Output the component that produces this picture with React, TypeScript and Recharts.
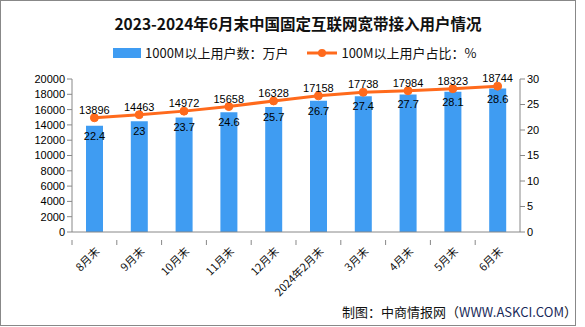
import { ComposedChart, Bar, Line, XAxis, YAxis, LabelList } from 'recharts';

const months = ['8月末', '9月末', '10月末', '11月末', '12月末', '2024年2月末', '3月末', '4月末', '5月末', '6月末'];
const gigabitUsers = [13896, 14463, 14972, 15658, 16328, 17158, 17738, 17984, 18323, 18744];
const share100M = [22.4, 23, 23.7, 24.6, 25.7, 26.7, 27.4, 27.7, 28.1, 28.6];
const leftTicks = [0, 2000, 4000, 6000, 8000, 10000, 12000, 14000, 16000, 18000, 20000];
const rightTicks = [0, 5, 10, 15, 20, 25, 30];

const data = months.map((m, i) => ({ month: m, users: gigabitUsers[i], share: share100M[i] }));

const FONT = '"Liberation Sans", "Noto Sans CJK SC", sans-serif';
const CJK = '"Noto Sans CJK SC", sans-serif';
const AXIS = '#888';
const BAR = '#3f9cf2';
const LINE = '#ff6a1c';
const BAND = (520 - 72) / months.length;

function MonthTick(props: any) {
  const { x, y, payload } = props;
  return (
    <g transform={`translate(${x},${y})`}>
      <line x1={-BAND / 2} x2={-BAND / 2} y1={0} y2={5} stroke={AXIS} />
      <text
        transform="translate(6,12) rotate(-45)"
        textAnchor="end"
        fontSize={11}
        fontFamily={CJK}
        fill="#111"
      >
        {payload.value}
      </text>
    </g>
  );
}

// the value above each dot is the bar value, and the value inside the bar is the share
function UsersLabel(props: any) {
  const { x, y, index } = props;
  return (
    <text x={x} y={y - 4} textAnchor="middle" fontSize={11} fontFamily={FONT} fill="#000">
      {gigabitUsers[index]}
    </text>
  );
}

function ShareLabel(props: any) {
  const { x, y, width, index } = props;
  return (
    <text x={x + width / 2} y={y + 14} textAnchor="middle" fontSize={11} fontFamily={FONT} fill="#000">
      {share100M[index]}
    </text>
  );
}

export default function App() {
  return (
    <div style={{ position: 'absolute', left: 0, top: 0, width: 585, height: 327, background: '#fff' }}>
      <div
        style={{
          position: 'absolute', left: 0, top: 0, width: 576, height: 326,
          border: '1px solid #888', boxSizing: 'border-box',
        }}
      />
      <div
        style={{
          position: 'absolute', left: 0, top: 12, width: 596, textAlign: 'center',
          fontFamily: CJK, fontWeight: 'bold', fontSize: 15.5, color: '#111',
        }}
      >
        2023-2024年6月末中国固定互联网宽带接入用户情况
      </div>
      <div style={{ position: 'absolute', left: 113, top: 43, fontFamily: CJK, fontSize: 13, color: '#111', display: 'flex', alignItems: 'center' }}>
        <span style={{ display: 'inline-block', width: 28, height: 10, background: BAR, marginRight: 4 }} />
        <span>1000M以上用户数：万户</span>
        <svg width={30} height={10} style={{ marginLeft: 19, marginRight: 4 }}>
          <line x1={0} x2={30} y1={5} y2={5} stroke={LINE} strokeWidth={3} />
          <circle cx={15} cy={5} r={4} fill={LINE} />
        </svg>
        <span>100M以上用户占比：%</span>
      </div>
      <div style={{ position: 'absolute', left: 342, top: 302, fontFamily: CJK, fontSize: 13, color: '#111' }}>
        制图：中商情报网（<span style={{ color: '#1a2a5a' }}>WWW.ASKCI.COM</span>）
      </div>
      <div style={{ position: 'absolute', left: 0, top: 0 }}>
        <ComposedChart
          width={585}
          height={327}
          data={data}
          margin={{ top: 79, right: 25, bottom: 0, left: 27 }}
          barCategoryGap={0}
        >
          <XAxis
            dataKey="month"
            interval={0}
            height={95}
            stroke={AXIS}
            tickLine={false}
            tick={<MonthTick />}
          />
          <YAxis
            yAxisId="l"
            width={45}
            domain={[0, 20000]}
            ticks={leftTicks}
            interval={0}
            stroke={AXIS}
            tickSize={5}
            tick={{ fill: '#000', fontSize: 11, fontFamily: FONT }}
          />
          <YAxis
            yAxisId="r"
            orientation="right"
            width={40}
            domain={[0, 30]}
            ticks={rightTicks}
            interval={0}
            stroke={AXIS}
            tickSize={5}
            tick={{ fill: '#000', fontSize: 11, fontFamily: FONT }}
          />
          <Bar yAxisId="l" dataKey="users" fill={BAR} barSize={17} isAnimationActive={false}>
            <LabelList dataKey="share" content={<ShareLabel />} />
          </Bar>
          <Line
            yAxisId="r"
            dataKey="share"
            stroke={LINE}
            strokeWidth={3}
            dot={{ r: 4, fill: LINE, stroke: LINE, strokeWidth: 1 }}
            isAnimationActive={false}
          >
            <LabelList dataKey="users" content={<UsersLabel />} />
          </Line>
        </ComposedChart>
      </div>
    </div>
  );
}
